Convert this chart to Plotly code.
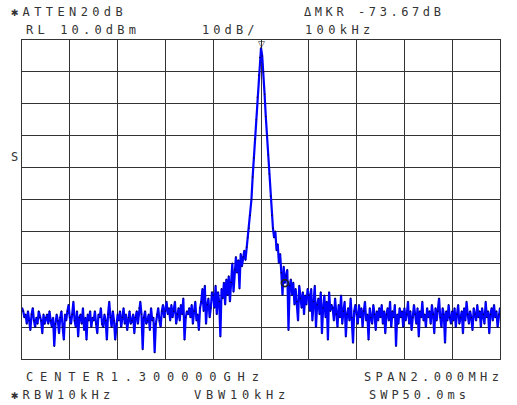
import numpy as np
import plotly.graph_objects as go

# ---------------- data ----------------
center_ghz = 1.300000
span_khz = 2000
n_points = 401
ref_level_dbm = 10.0
db_per_div = 10
freq_khz = np.linspace(-span_khz / 2, span_khz / 2, n_points)

level_dbm = [
    -74, -75, -77, -76, -79, -75, -78, -81, -76, -74, -78, -80, -77, -79, -75, -77, -78, -82, -76, -79,
    -77, -76, -79, -75, -78, -80, -77, -86, -79, -76, -78, -82, -77, -75, -80, -84, -76, -78, -75, -73,
    -77, -79, -76, -72, -78, -80, -75, -83, -77, -76, -79, -74, -81, -77, -84, -76, -78, -75, -80, -77,
    -78, -75, -79, -82, -76, -77, -74, -79, -80, -76, -78, -84, -76, -72, -77, -80, -75, -78, -84, -79,
    -76, -78, -75, -80, -77, -74, -79, -76, -81, -77, -75, -79, -78, -76, -82, -77, -75, -79, -74, -72,
    -76, -87, -77, -75, -79, -78, -76, -81, -74, -78, -77, -88, -79, -76, -74, -78, -80, -75, -73, -77,
    -75, -72, -76, -74, -78, -73, -77, -75, -72, -79, -76, -74, -78, -73, -76, -71, -84, -77, -75, -76,
    -74, -77, -73, -79, -75, -72, -78, -76, -81, -74, -72, -68, -75, -67, -79, -73, -71, -77, -74, -69,
    -70, -74, -67, -76, -69, -72, -83, -68, -71, -66, -73, -65, -70, -64, -72, -66, -60, -69, -62, -58,
    -63, -59, -68, -57, -61, -58, -56, -59, -55, -52, -49, -45, -40, -33, -27, -21, -15, -8, -1, 4.5,
    7.5, 5, 0, -7, -14, -20, -26, -32, -39, -45, -49, -52, -50, -56, -54, -60, -57, -63, -70, -61,
    -66.2, -64, -62, -81, -67, -65, -70, -66, -73, -68, -72, -78, -67, -71, -74, -69, -76, -70, -73, -68,
    -70, -75, -68, -78, -72, -67, -80, -73, -71, -76, -69, -82, -74, -70, -77, -72, -84, -69, -75, -73,
    -74, -78, -71, -76, -80, -73, -77, -70, -79, -75, -72, -83, -76, -74, -78, -71, -77, -85, -75, -73,
    -76, -79, -73, -77, -74, -80, -75, -72, -78, -76, -84, -74, -77, -79, -73, -76, -81, -75, -78, -74,
    -77, -73, -79, -75, -82, -76, -74, -78, -72, -80, -75, -77, -73, -86, -76, -79, -74, -77, -75, -80,
    -74, -78, -76, -72, -79, -75, -81, -77, -73, -76, -79, -74, -83, -75, -77, -72, -78, -76, -80, -74,
    -77, -75, -79, -73, -76, -82, -74, -78, -75, -71, -77, -80, -74, -76, -85, -75, -78, -73, -77, -79,
    -75, -78, -74, -80, -76, -73, -79, -77, -75, -82, -74, -78, -72, -76, -79, -75, -77, -81, -74, -76,
    -78, -73, -77, -75, -80, -74, -76, -79, -72, -77, -75, -82, -76, -74, -78, -73, -77, -75, -80, -76,
    -74,
]
assert len(level_dbm) == n_points

marker_delta_khz = 100
peak_idx = int(np.argmax(level_dbm))
mkr_idx = int(np.argmin(np.abs(freq_khz - (freq_khz[peak_idx] + marker_delta_khz))))

header_texts = [
    ("✱ATTEN20dB", 9, 12, 11.6),
    ("ΔMKR -73.67dB", 302, 12, 10.8),
    ("RL 10.0dBm", 24, 30, 11.4),
    ("10dB/", 200, 30, 11.3),
    ("100kHz", 303, 30, 11.6),
    ("CENTER1.300000GHz", 24, 377, 14.1),
    ("SPAN2.000MHz", 362, 377, 11.6),
    ("✱RBW10kHz", 9, 395, 11.5),
    ("VBW10kHz", 192, 395, 12.0),
    ("SWP50.0ms", 367, 395, 11.2),
    ("S", 9, 157, 11.0),
]

# ---------------- figure ----------------
W, H = 517, 405
L, R, T, B = 22, 17, 40, 46
FONT = "DejaVu Sans Mono"
FS = 12
ADV = 0.602 * FS

fig = go.Figure()
fig.add_trace(go.Scatter(
    x=freq_khz, y=level_dbm, mode="lines",
    line=dict(color="#0000ff", width=2.2),
    hoverinfo="skip", showlegend=False,
))
fig.add_trace(go.Scatter(
    x=freq_khz, y=level_dbm, mode="markers",
    marker=dict(color="#000050", size=1.6),
    hoverinfo="skip", showlegend=False,
))
fig.add_trace(go.Scatter(
    x=[freq_khz[mkr_idx]], y=[level_dbm[mkr_idx]], mode="markers",
    marker=dict(symbol="circle-open", color="#222222", size=7, line=dict(width=1.6)),
    hoverinfo="skip", showlegend=False,
))

anns = []
for txt, px, py, pitch in header_texts:
    ls = pitch - ADV
    anns.append(dict(
        text=f'<span style="letter-spacing:{ls:.2f}px">{txt}</span>',
        xref="paper", yref="paper", x=0, y=1,
        xshift=px - L, yshift=T - py,
        xanchor="left", yanchor="middle", showarrow=False,
        font=dict(family=FONT, size=FS, color="#333333"),
    ))
# reference triangle marker above peak
anns.append(dict(
    text="▽", x=freq_khz[peak_idx], y=level_dbm[peak_idx], xref="x", yref="y",
    xanchor="center", yanchor="bottom", showarrow=False, yshift=-3,
    font=dict(family="DejaVu Sans", size=9, color="#222222"),
))

fig.update_layout(
    width=W, height=H,
    margin=dict(l=L, r=R, t=T, b=B, pad=0),
    paper_bgcolor="white", plot_bgcolor="white",
    annotations=anns,
    xaxis=dict(range=[-span_khz / 2, span_khz / 2], dtick=span_khz / 10, tick0=0,
               showgrid=True, gridcolor="#333333", gridwidth=1.3,
               showticklabels=False, ticks="", zeroline=False,
               showline=True, linecolor="#333333", linewidth=1.3, mirror=True),
    yaxis=dict(range=[ref_level_dbm - 10 * db_per_div, ref_level_dbm], dtick=db_per_div,
               tick0=ref_level_dbm, showgrid=True, gridcolor="#333333", gridwidth=1.3,
               showticklabels=False, ticks="", zeroline=False,
               showline=True, linecolor="#333333", linewidth=1.3, mirror=True),
)

fig.write_html(
    "out.html",
    config={"displayModeBar": False},
    post_script="document.body.style.margin='0px';document.body.style.overflow='hidden';",
)
